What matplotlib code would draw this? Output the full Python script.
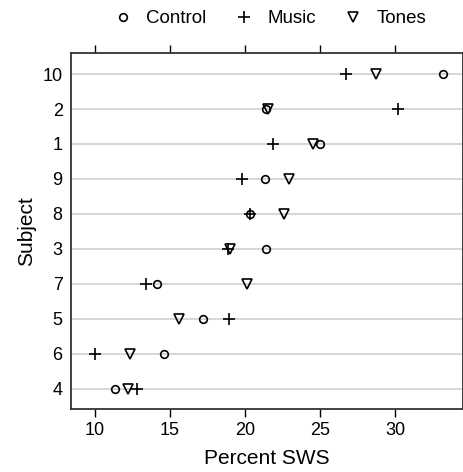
import matplotlib
matplotlib.use("Agg")
import matplotlib.pyplot as plt

plt.rcParams["font.family"] = ["Liberation Sans", "DejaVu Sans"]

# Subjects, top to bottom
subjects = ["10", "2", "1", "9", "8", "3", "7", "5", "6", "4"]
control = [33.2, 21.4, 25.0, 21.3, 20.3, 21.4, 14.15, 17.2, 14.6, 11.3]
music = [26.7, 30.2, 21.85, 19.8, 20.3, 18.85, 13.4, 18.95, 10.0, 12.8]
tones = [28.7, 21.5, 24.5, 22.95, 22.6, 19.0, 20.1, 15.6, 12.3, 12.2]
xticks = [10, 15, 20, 25, 30]

fig = plt.figure(figsize=(4.63, 4.72), dpi=100)
ax = fig.add_axes([0.1534, 0.1335, 0.8466, 0.754])

ypos = list(range(len(subjects), 0, -1))

for y in ypos:
    ax.axhline(y, color="#cccccc", lw=1.1, zorder=0)

ax.plot(control, ypos, "o", ms=5.5, mfc="none", mec="black", mew=1.2, ls="none", label="Control")
ax.plot(music, ypos, "+", ms=8.5, mec="black", mew=1.2, ls="none", label="Music")
ax.plot(tones, ypos, "v", ms=7, mfc="none", mec="black", mew=1.2, ls="none", label="Tones")

ax.set_xlim(8.4, 34.53)
ax.set_ylim(0.42, 10.6)
ax.set_xticks(xticks)
ax.set_yticks(ypos)
ax.set_yticklabels(subjects)
ax.tick_params(axis="x", which="both", top=True, bottom=True, labeltop=False,
               direction="out", length=6, width=1, labelsize=13, colors="black")
ax.tick_params(axis="y", length=0, labelsize=13, pad=6)
for s in ax.spines.values():
    s.set_color("#333333")
    s.set_linewidth(1.3)

ax.set_xlabel("Percent SWS", fontsize=15, labelpad=7)
ax.set_ylabel("Subject", fontsize=15, labelpad=5)

fig.legend(loc="center", bbox_to_anchor=(0.583, 0.96), ncol=3, frameon=False,
           fontsize=13.5, handlelength=1.0, handletextpad=0.75, columnspacing=1.5,
           numpoints=1)

fig.savefig("out.png", dpi=100)
